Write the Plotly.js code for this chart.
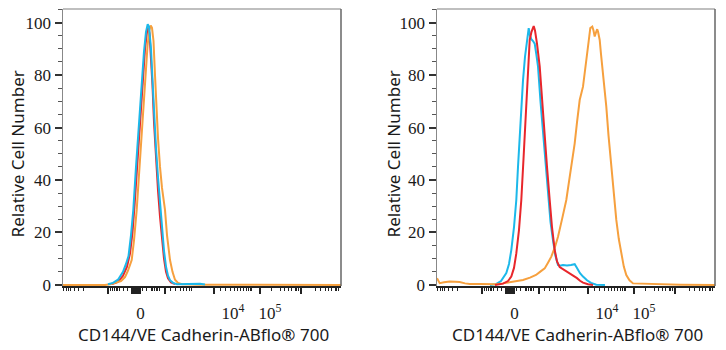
<!DOCTYPE html>
<html>
<head>
<meta charset="utf-8">
<script src="https://cdn.plot.ly/plotly-3.0.1.min.js"></script>
<style>html,body{margin:0;padding:0;background:#fff;}#chart{width:726px;height:350px;}</style>
</head>
<body>
<div id="chart"></div>
<script>
// x values are in display channel units of the biexponential axis (0..278)
const xTickLabelPos = [77.5, 170, 207];
const xTickLabels = ['0', '10<sup>4</sup>', '10<sup>5</sup>'];
const xMajorMarks = [45.3, 69, 70, 71, 72, 73, 74, 75, 76, 77, 102, 151.3, 197, 237.7];
const xMinorMarks = [0, 3, 5.3, 7.7, 11, 15.7, 20.3, 47, 49.3, 51.3, 53, 54.7, 56.3, 60, 64.3, 79.3, 83.7,
  88, 89.7, 91.3, 93, 94.3, 96.3, 107, 112, 117, 120.3, 123.7, 126.3, 128,
  157, 162, 167, 171, 174.3, 177, 180.3, 183, 185.3, 187, 188.7,
  208.7, 217, 221.3, 225.3, 228.7, 232, 233.7, 235.3,
  252, 257, 262, 265.3, 268.7, 272, 273.7, 275.3];
const yTicks = [0, 20, 40, 60, 80, 100];

// Left panel
const redLx = [49, 55, 60, 64, 67, 69.5, 71.5, 74, 76, 78, 80, 82, 84, 85.3, 86.5, 88, 89.5, 91, 93, 95, 97, 99, 101, 103, 105, 108, 112];
const redLy = [0.3, 1.2, 3.5, 7, 12, 20, 30, 45, 57, 68, 80, 90, 96.5, 98, 96, 88, 76, 62, 48, 36, 26, 17, 10, 5, 2.5, 1, 0.3];
const orangeLx = [0, 42, 47, 53, 58, 62, 65, 68.7, 71, 73.7, 76, 78, 80.3, 82.5, 84.5, 86.3, 87.7, 89, 90.5, 92, 93.5, 95, 97, 99, 102, 104, 107, 109.5, 112, 115, 119, 127, 137, 278];
const orangeLy = [0, 0, 0.3, 0.8, 1.5, 3, 5.5, 9.5, 17, 28.6, 42, 55, 66.7, 80, 91, 97, 98.9, 98, 93, 80, 66.7, 56, 45, 37, 28.6, 19, 9.5, 5, 2, 0.8, 0.3, 0.2, 0.1, 0];
const cyanLx = [45, 50, 55, 60, 63, 65.5, 68, 70.3, 73, 75, 77, 79, 81, 83, 84.7, 86, 88, 89.5, 91, 93, 95, 97, 99, 101, 103, 105, 107, 110, 114, 122, 132, 137, 142];
const cyanLy = [0.3, 0.8, 2, 5, 8, 11, 19, 28.6, 45, 56, 66.7, 79, 89, 96.5, 99.4, 98.5, 90, 78, 65, 52, 41, 31, 22, 13, 7, 3.5, 1.8, 0.8, 0.3, 0.3, 0.4, 0.5, 0.2];

// Right panel
const cyanRx = [53, 59, 64, 69.3, 72, 74.3, 77, 79.3, 81, 82.7, 84.3, 86, 88, 90, 91.7, 93, 94.3, 96, 97.7, 99.3, 101, 103.5, 106, 108.5, 111, 113.5, 116, 118.5, 121, 123, 126, 130, 134, 137.7, 140, 143, 146, 150, 154, 159.3, 168];
const cyanRy = [0, 0.3, 1.5, 4.5, 8, 13.3, 22, 32.4, 45, 58, 68, 78, 87, 93, 97.9, 95, 93.7, 93, 92, 88, 83.3, 70, 58, 45, 32.4, 24, 17, 11, 7.6, 7.3, 7.6, 7.4, 7.6, 7.9, 6.5, 4.5, 3.2, 1.8, 0.8, 0.1, 0];
const orangeRx = [0, 2.7, 7, 12.7, 18, 22.7, 28, 32.7, 43, 59.3, 66, 72.7, 79, 86, 93, 99, 103, 107.7, 111, 114.3, 118, 121, 125, 129.3, 133, 137.7, 140, 142.7, 146, 148, 150, 151.7, 153.3, 155.3, 156.5, 157.7, 159.3, 160.2, 161, 162.7, 164, 166, 169.3, 171.5, 174.3, 176.8, 179.3, 181.8, 184.3, 186.8, 189.3, 192.5, 196, 203, 209.3, 218, 226, 243, 278];
const orangeRy = [2.6, 0.7, 1, 1.3, 1.2, 1.1, 0.6, 0.4, 0.4, 0.3, 0.6, 1, 1.3, 1.9, 2.8, 3.8, 5, 6.3, 8.5, 10.8, 14.5, 18.4, 25, 32.4, 42, 54, 62, 70.5, 75.6, 81, 87, 93, 97.9, 98.5, 97, 94.7, 96.6, 97.5, 96.6, 93.4, 88, 80.7, 68, 57, 45, 34, 24.8, 17.5, 12, 7, 3.8, 1.8, 0.6, 0.5, 0.5, 0.3, 0.3, 0.1, 0];
const redRx = [58, 66, 71, 74.3, 77, 79.3, 82, 84.3, 86.5, 88, 89.3, 91, 92.7, 94.5, 96.7, 98, 100, 102.7, 105, 107.7, 110, 112.7, 115, 117.7, 120, 122.7, 126, 130, 133, 136, 140, 143, 146, 151, 156];
const redRy = [0, 0.5, 1.5, 3.2, 6.5, 12, 21, 32.4, 48, 60, 70.5, 83, 93.4, 96.5, 98.7, 97, 92, 83.3, 70, 58, 45, 32.4, 22, 13.3, 9, 6.8, 6, 5.2, 4.5, 3.8, 2.6, 1.6, 0.9, 0.3, 0];

const RED = '#e8262b', ORANGE = '#f6a03e', CYAN = '#1cb8ea';
const line = (c) => ({color: c, width: 2});
const traces = [
  {x: redLx, y: redLy, xaxis: 'x', yaxis: 'y', mode: 'lines', line: line(RED)},
  {x: orangeLx, y: orangeLy, xaxis: 'x', yaxis: 'y', mode: 'lines', line: line(ORANGE)},
  {x: cyanLx, y: cyanLy, xaxis: 'x', yaxis: 'y', mode: 'lines', line: line(CYAN)},
  {x: cyanRx, y: cyanRy, xaxis: 'x2', yaxis: 'y2', mode: 'lines', line: line(CYAN)},
  {x: orangeRx, y: orangeRy, xaxis: 'x2', yaxis: 'y2', mode: 'lines', line: line(ORANGE)},
  {x: redRx, y: redRy, xaxis: 'x2', yaxis: 'y2', mode: 'lines', line: line(RED)},
  // invisible carriers so the overlaid tick-mark axes are drawn
  {x: [0, 278], y: [-50, -50], xaxis: 'x3', yaxis: 'y', mode: 'lines', line: {width: 0}, opacity: 0},
  {x: [0, 278], y: [-50, -50], xaxis: 'x4', yaxis: 'y2', mode: 'lines', line: {width: 0}, opacity: 0}
].map(t => Object.assign(t, {showlegend: false, hoverinfo: 'skip'}));

const serif = {family: 'Liberation Serif, DejaVu Serif, serif', size: 17, color: '#1a1a1a'};
const sans = {family: 'Noto Sans, Open Sans, sans-serif', size: 17, color: '#1a1a1a'};
const xTitle = 'CD144/VE Cadherin-ABflo® 700';
const yTitle = 'Relative Cell Number';

function labelAxis(domain, anchor) {
  return {domain: domain, range: [0, 278], anchor: anchor,
    tickmode: 'array', tickvals: xTickLabelPos, ticktext: xTickLabels, ticks: '',
    ticklabelstandoff: 11, tickfont: serif,
    showline: true, linecolor: '#222', linewidth: 1.5, showgrid: false, zeroline: false, fixedrange: true};
}
function markAxis(over, anchor) {
  return {overlaying: over, anchor: anchor, range: [0, 278], tickmode: 'array', tickvals: xMajorMarks,
    ticks: 'outside', ticklen: 7, tickwidth: 2, tickcolor: '#222', showticklabels: false,
    showline: false, showgrid: false, zeroline: false, fixedrange: true,
    minor: {tickmode: 'array', tickvals: xMinorMarks, ticks: 'outside', ticklen: 4, tickwidth: 1, tickcolor: '#222', showgrid: false}};
}
function yAxis(anchor) {
  return {domain: [0, 1], range: [-0.4, 105.2], anchor: anchor, tickmode: 'array', tickvals: yTicks,
    ticks: 'outside', ticklen: 7, tickwidth: 2, tickcolor: '#333', tickfont: serif,
    minor: {dtick: 5, tick0: 0, ticks: 'outside', ticklen: 4, tickwidth: 1, tickcolor: '#555', showgrid: false},
    showline: true, linecolor: '#888', linewidth: 1.5, showgrid: false, zeroline: false, fixedrange: true};
}
function frame(xr, yr) {
  return [
    {type: 'line', xref: xr + ' domain', yref: yr + ' domain', x0: 0, x1: 1, y0: 1, y1: 1, line: {color: '#aaa', width: 1.5}},
    {type: 'line', xref: xr + ' domain', yref: yr + ' domain', x0: 1, x1: 1, y0: 0, y1: 1, line: {color: '#666', width: 1.5}}
  ];
}
function titles(xr, yr, yTitleX) {
  return [
    {text: xTitle, xref: xr + ' domain', yref: 'paper', x: 0.505, y: -0.176, xanchor: 'center', yanchor: 'middle', showarrow: false, font: sans},
    {text: yTitle, xref: 'paper', yref: yr + ' domain', x: yTitleX, y: 0.475, xanchor: 'center', yanchor: 'middle', textangle: -90, showarrow: false, font: sans}
  ];
}

const layout = {
  width: 726, height: 350, margin: {l: 0, r: 0, t: 9, b: 64},
  paper_bgcolor: '#fff', plot_bgcolor: '#fff', showlegend: false,
  xaxis: labelAxis([63 / 726, 341 / 726], 'y'),
  xaxis2: labelAxis([437 / 726, 715 / 726], 'y2'),
  xaxis3: markAxis('x', 'y'),
  xaxis4: markAxis('x2', 'y2'),
  yaxis: yAxis('x'),
  yaxis2: yAxis('x2'),
  shapes: frame('x', 'y').concat(frame('x2', 'y2')),
  annotations: titles('x', 'y', 17 / 726).concat(titles('x2', 'y2', 393 / 726))
};

Plotly.newPlot('chart', traces, layout, {staticPlot: true, displayModeBar: false});
</script>
</body>
</html>
